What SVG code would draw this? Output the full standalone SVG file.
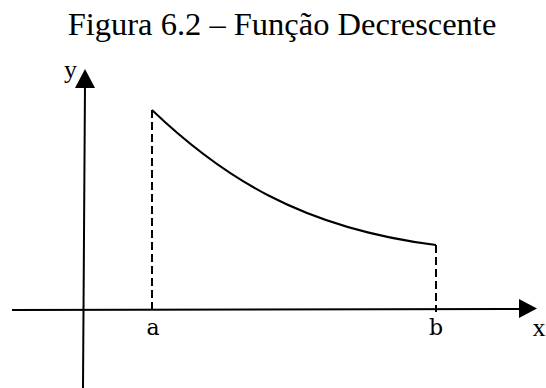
<svg xmlns="http://www.w3.org/2000/svg" width="546" height="388" viewBox="0 0 546 388">
<style>
.t{font-family:"Liberation Serif","Times New Roman",serif;fill:#000}
.l{font-family:"DejaVu Serif","Liberation Serif",serif;fill:#000}
.ax{stroke:#000;stroke-width:2;fill:none}
.d{stroke:#000;stroke-width:2;fill:none;stroke-dasharray:8,4}
</style>
<rect width="546" height="388" fill="#fff"/>
<text class="t" x="282" y="35" font-size="32.5" text-anchor="middle">Figura 6.2 – Função Decrescente</text>
<g id="axes">
<line class="ax" x1="12" y1="310" x2="522" y2="309"/>
<polygon points="519,299 537,308.5 519,318" fill="#000"/>
<line class="ax" x1="83" y1="388" x2="85" y2="84"/>
<polygon points="75,88 85,69 95,88" fill="#000"/>
</g>
<g id="curve">
<path class="ax" d="M152,110 C220,175 300,228 436,245"/>
<line class="d" x1="152" y1="110" x2="152" y2="312"/>
<line class="d" x1="436" y1="245" x2="436" y2="312"/>
</g>
<g id="labels">
<text class="t" x="64" y="78" font-size="26">y</text>
<text class="l" x="153" y="335" font-size="22" text-anchor="middle">a</text>
<text class="l" x="436" y="335" font-size="22" text-anchor="middle">b</text>
<text class="t" x="539" y="336" font-size="26" text-anchor="middle">x</text>
</g>
</svg>
